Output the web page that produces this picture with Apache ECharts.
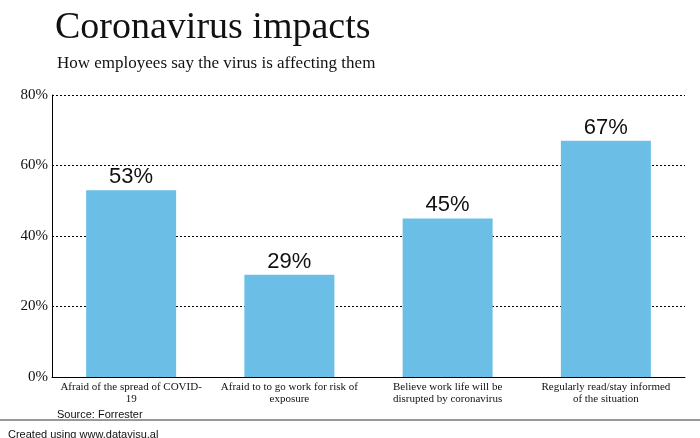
<!DOCTYPE html>
<html>
<head>
<meta charset="utf-8">
<script src="https://cdn.jsdelivr.net/npm/echarts@6/dist/echarts.min.js"></script>
<style>
html,body{margin:0;padding:0;background:#fff;}
#chart{width:700px;height:438px;}
</style>
</head>
<body>
<div id="chart"></div>
<script>
var categories = [
	'Afraid of the spread of COVID-\n19',
	'Afraid to to go work for risk of\nexposure',
	'Believe work life will be\ndisrupted by coronavirus',
	'Regularly read/stay informed\nof the situation'
];
var values = [53, 29, 45, 67];
var yTicks = [0, 20, 40, 60, 80];

var myChart = echarts.init(document.getElementById('chart'));
var option = {
	animation: false,
	title: [
		{text: 'Coronavirus impacts', left: 50, top: 4,
			textStyle: {fontFamily: 'Liberation Serif', fontSize: 38, fontWeight: 'normal', color: '#111'}},
		{text: 'How employees say the virus is affecting them', left: 52, top: 50,
			textStyle: {fontFamily: 'Liberation Serif', fontSize: 17, fontWeight: 'normal', color: '#111'}},
		{text: 'Source: Forrester', left: 52, top: 404,
			textStyle: {fontFamily: 'Liberation Sans', fontSize: 11, fontWeight: 'normal', color: '#111'}},
		{text: 'Created using www.datavisu.al', left: 3, top: 424,
			textStyle: {fontFamily: 'Liberation Sans', fontSize: 11, fontWeight: 'normal', color: '#111'}}
	],
	graphic: [{type: 'line', shape: {x1: 0, y1: 420, x2: 700, y2: 420}, style: {stroke: '#333', lineWidth: 1}}],
	grid: {left: 52, right: 15, top: 95, bottom: 61},
	xAxis: {
		type: 'category',
		data: categories,
		axisLine: {lineStyle: {color: '#000'}},
		axisTick: {show: false},
		axisLabel: {interval: 0, fontFamily: 'Liberation Serif', fontSize: 11, color: '#111', lineHeight: 12, margin: 4}
	},
	yAxis: {
		type: 'value',
		min: yTicks[0], max: yTicks[yTicks.length - 1], interval: 20,
		axisLine: {show: true, lineStyle: {color: '#000'}},
		axisTick: {show: false},
		splitLine: {lineStyle: {color: '#000', type: [2, 2], width: 1}},
		axisLabel: {formatter: '{value}%', fontFamily: 'Liberation Serif', fontSize: 15, color: '#111', margin: 4}
	},
	series: [{
		type: 'bar',
		data: values,
		barWidth: 90,
		itemStyle: {color: '#6bbfe6'},
		label: {show: true, position: 'top', formatter: '{c}%', fontFamily: 'Liberation Sans', fontSize: 22, color: '#111', distance: 2}
	}]
};
myChart.setOption(option);
</script>
</body>
</html>
